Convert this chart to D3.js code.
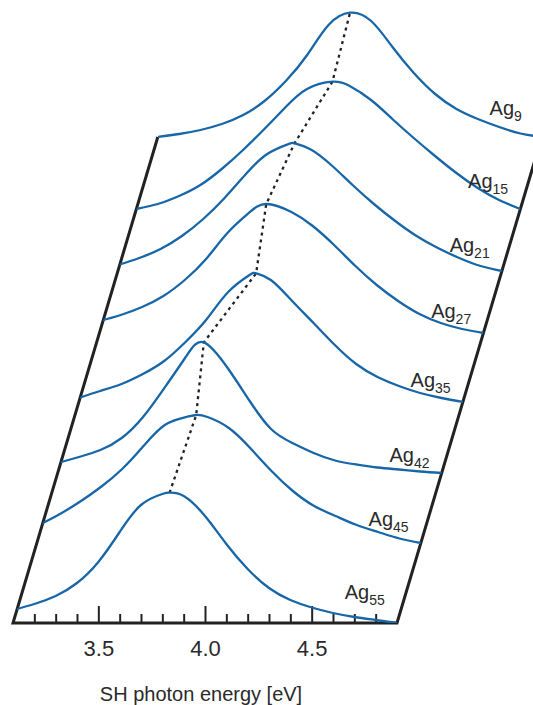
<!DOCTYPE html>
<html><head><meta charset="utf-8">
<script src="https://cdn.jsdelivr.net/npm/d3@7"></script>
<style>html,body{margin:0;padding:0;background:#fff;} svg{display:block;}</style>
</head><body>
<svg id="chart" width="533" height="705"></svg>
<script>
// ---------- data ----------
const energies = [3.1,3.2,3.3,3.4,3.5,3.6,3.7,3.8,3.9,4.0,4.1,4.2,4.3,4.4,4.5,4.6,4.7,4.8,4.9];
const clusterSizes = [55,45,42,35,27,21,15,9];
// vertical stacking offset of each spectrum (a.u.)
const offsets = [0,80,150,221,290,352,414,486];
// SH intensity (a.u.) on the energy grid
const ag55 = [13,19,27,40,61,91,118,129,127,107,79,54,35,23,15.5,10,6,3,0];
const ag45 = [17,28,41,56,74,97,118,126,126,115,95,72,52,37,27,18,11,4.5,0];
const ag42 = [10,16,23,35,56,85,116,130,104,72,44,30,20,12.5,8.5,5.5,3.5,1.5,0];
const ag35 = [4,11,18,28,41,60,83,110,127,122,101,79,57,38,25,16,9,4,0];
const ag27 = [12,18,26,37,53,74,100,120,128,121,107,88,67,48,32,19,10,4,0];
const ag21 = [6,13,22,35,52,73,97,117,127,122,106,86,67,50,35,23,13,5,0];
const ag15 = [0,5,13,24,40,59,80,102,120,126,123,109,90,71,53,36,21,9,0];
const ag9  = [0,3,7,13,22,36,56,82,112,124,116,90,64,43,28,18,10,3.5,0];
// peak maxima (energy on the front axis, intensity)
const peakEnergy    = [3.834,3.847,3.785,3.931,3.882,3.928,4.019,4.001];
const peakIntensity = [130.3,128,130.7,128.7,129,127.7,127.3,124.3];
const majorTicks = [3.5,4.0,4.5];
const minorTicks = [3.2,3.3,3.4,3.6,3.7,3.8,3.9,4.1,4.2,4.3,4.4,4.6,4.7,4.8];
const xTitle = "SH photon energy [eV]";

// ---------- layout ----------
const spectra = [ag55,ag45,ag42,ag35,ag27,ag21,ag15,ag9];
const labelLift = [24,17,11,15,15,19,21,22];
const labelEnergy = 4.655;
const skew = 0.298;          // horizontal shift per unit of stacking offset
const blue = "#1766a8";
const ink = "#222";
const font = "'Liberation Sans', Arial, Helvetica, sans-serif";

const svg = d3.select("#chart");
const x = d3.scaleLinear().domain([3.1,4.9]).range([13,397]);
const y = d3.scaleLinear().domain([0,623]).range([623,0]);
const pt = (E, v, off) => [x(E) + skew*(y(0)-y(off)), y(off+v)];

const offMax = d3.max(offsets);
const domain = x.domain();

// clip region: inside the slanted frame
svg.append("defs").append("clipPath").attr("id","frameClip")
  .append("path")
  .attr("d", d3.line()([pt(domain[0],0,0), pt(domain[1],0,0), pt(domain[1],0,900), pt(domain[0],0,900)]) + "Z");

// frame: left slant, bottom axis, right slant
const frame = [pt(domain[0],0,offMax), pt(domain[0],0,0), pt(domain[1],0,0), pt(domain[1],0,offMax)];
svg.append("path")
  .attr("d", d3.line()(frame))
  .attr("fill","none").attr("stroke",ink).attr("stroke-width",3)
  .attr("stroke-linejoin","miter");

// ticks
const gMinor = svg.append("g").attr("transform",`translate(0,${y(0)})`)
  .call(d3.axisBottom(x).tickValues(minorTicks).tickSize(-9).tickFormat(""));
const gMajor = svg.append("g").attr("transform",`translate(0,${y(0)})`)
  .call(d3.axisBottom(x).tickValues(majorTicks).tickSize(-17).tickPadding(17).tickFormat(d3.format(".1f")));
[gMinor,gMajor].forEach(g=>{
  g.select(".domain").remove();
  g.selectAll(".tick line").attr("stroke",ink).attr("stroke-width",2);
  g.selectAll(".tick text").attr("fill","#2a2a2a").style("font-family",font).style("font-size","22px");
});

// axis title
svg.append("text")
  .attr("x", (x(domain[0])+x(domain[1]))/2 - 4).attr("y", 701)
  .attr("text-anchor","middle").attr("fill","#2a2a2a")
  .style("font-family",font).style("font-size","20px")
  .text(xTitle);

// dotted line through the peaks
const peakPts = peakEnergy.map((E,i)=>pt(E, peakIntensity[i], offsets[i]));
svg.append("path")
  .attr("d", d3.line()(peakPts))
  .attr("fill","none").attr("stroke",ink).attr("stroke-width",2.3)
  .attr("stroke-dasharray","3,4");

// spectra
const line = d3.line().curve(d3.curveNatural);
const gSpec = svg.append("g").attr("clip-path","url(#frameClip)");
spectra.forEach((vals,i)=>{
  let pts = energies.map((E,j)=>[E, vals[j]])
    .filter(p => Math.abs(p[0]-peakEnergy[i]) > 0.02);
  pts.push([peakEnergy[i], peakIntensity[i]]);
  pts.sort((a,b)=>a[0]-b[0]);
  gSpec.append("path")
    .attr("d", line(pts.map(p=>pt(p[0],p[1],offsets[i]))))
    .attr("fill","none").attr("stroke",blue).attr("stroke-width",2.3);
});

// labels
clusterSizes.forEach((n,i)=>{
  const p = pt(labelEnergy, 0, offsets[i]);
  const t = svg.append("text")
    .attr("x", p[0]).attr("y", p[1]-labelLift[i])
    .attr("fill","#2a2a2a").style("font-family",font).style("font-size","20px");
  t.append("tspan").text("Ag");
  t.append("tspan").attr("dy",6).style("font-size","14px").text(n);
});
</script>
</body></html>
